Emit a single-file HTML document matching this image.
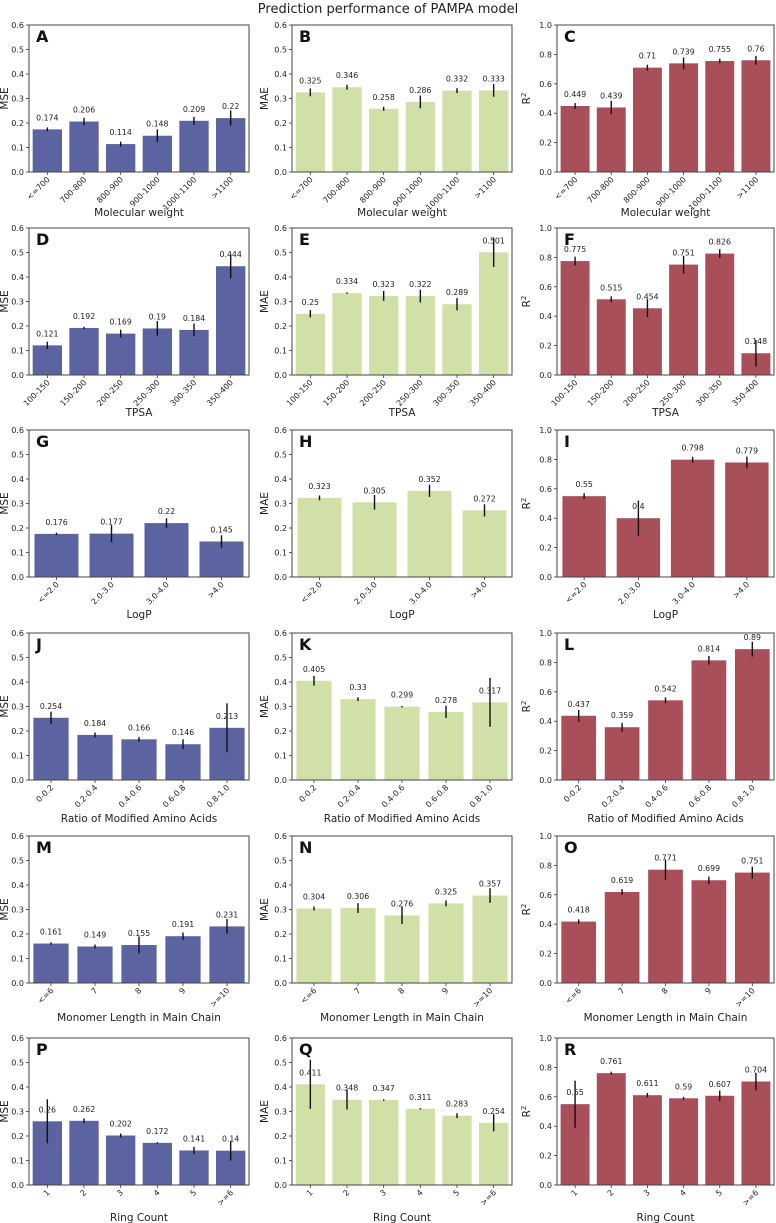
<!DOCTYPE html>
<html><head><meta charset="utf-8"><style>
body{margin:0;background:#fff;}
svg{display:block;font-family:"DejaVu Sans","Liberation Sans",sans-serif;}
</style></head><body>
<svg id="fig" width="776" height="1223" viewBox="0 0 776 1223">
<text x="388" y="13" text-anchor="middle" font-size="13" fill="#222">Prediction performance of PAMPA model</text>
</svg>
<script>
// categories per row
const catsMW = ["<=700","700-800","800-900","900-1000","1000-1100",">1100"];
const catsTPSA = ["100-150","150-200","200-250","250-300","300-350","350-400"];
const catsLogP = ["<=2.0","2.0-3.0","3.0-4.0",">4.0"];
const catsRatio = ["0-0.2","0.2-0.4","0.4-0.6","0.6-0.8","0.8-1.0"];
const catsMono = ["<=6","7","8","9",">=10"];
const catsRing = ["1","2","3","4","5",">=6"];
const xLabels = ["Molecular weight","TPSA","LogP","Ratio of Modified Amino Acids","Monomer Length in Main Chain","Ring Count"];
// values
const valsA=[0.174,0.206,0.114,0.148,0.209,0.22], errA=[0.008,0.015,0.01,0.026,0.016,0.031];
const valsB=[0.325,0.346,0.258,0.286,0.332,0.333], errB=[0.016,0.01,0.008,0.026,0.01,0.026];
const valsC=[0.449,0.439,0.71,0.739,0.755,0.76], errC=[0.02,0.045,0.02,0.04,0.015,0.03];
const valsD=[0.121,0.192,0.169,0.19,0.184,0.444], errD=[0.015,0.005,0.016,0.03,0.026,0.05];
const valsE=[0.25,0.334,0.323,0.322,0.289,0.501], errE=[0.015,0.003,0.02,0.026,0.025,0.06];
const valsF=[0.775,0.515,0.454,0.751,0.826,0.148], errF=[0.03,0.02,0.06,0.06,0.03,0.09];
const valsG=[0.176,0.177,0.22,0.145], errG=[0.005,0.035,0.02,0.025];
const valsH=[0.323,0.305,0.352,0.272], errH=[0.01,0.03,0.025,0.025];
const valsI=[0.55,0.4,0.798,0.779], errI=[0.02,0.12,0.02,0.04];
const valsJ=[0.254,0.184,0.166,0.146,0.213], errJ=[0.025,0.01,0.01,0.02,0.1];
const valsK=[0.405,0.33,0.299,0.278,0.317], errK=[0.02,0.008,0.003,0.025,0.1];
const valsL=[0.437,0.359,0.542,0.814,0.89], errL=[0.04,0.03,0.02,0.03,0.05];
const valsM=[0.161,0.149,0.155,0.191,0.231], errM=[0.005,0.008,0.035,0.015,0.03];
const valsN=[0.304,0.306,0.276,0.325,0.357], errN=[0.008,0.02,0.035,0.012,0.03];
const valsO=[0.418,0.619,0.771,0.699,0.751], errO=[0.015,0.02,0.07,0.025,0.04];
const valsP=[0.26,0.262,0.202,0.172,0.141,0.14], errP=[0.09,0.01,0.008,0.003,0.015,0.04];
const valsQ=[0.411,0.348,0.347,0.311,0.283,0.254], errQ=[0.1,0.04,0.003,0.003,0.01,0.035];
const valsR=[0.55,0.761,0.611,0.59,0.607,0.704], errR=[0.16,0.01,0.015,0.01,0.035,0.06];

const NS="http://www.w3.org/2000/svg";
const svg=document.getElementById('fig');
function mk(tag,attrs,parent){const e=document.createElementNS(NS,tag);for(const k in attrs)e.setAttribute(k,attrs[k]);(parent||svg).appendChild(e);return e;}

const colL=[29,292,557], colW=[220,220,217];
const rowT=[25,228,430,633,836,1038], H=147;
const xlabOff=[41,38,38,39,35,33];
const colors=["#5b63a0","#d1e0a7","#a84f5a"];
const ylabs=["MSE","MAE","R2"];
const ymaxs=[0.6,0.6,1.0];
const panels=[
 ["A",catsMW,valsA,errA],["B",catsMW,valsB,errB],["C",catsMW,valsC,errC],
 ["D",catsTPSA,valsD,errD],["E",catsTPSA,valsE,errE],["F",catsTPSA,valsF,errF],
 ["G",catsLogP,valsG,errG],["H",catsLogP,valsH,errH],["I",catsLogP,valsI,errI],
 ["J",catsRatio,valsJ,errJ],["K",catsRatio,valsK,errK],["L",catsRatio,valsL,errL],
 ["M",catsMono,valsM,errM],["N",catsMono,valsN,errN],["O",catsMono,valsO,errO],
 ["P",catsRing,valsP,errP],["Q",catsRing,valsQ,errQ],["R",catsRing,valsR,errR]];

panels.forEach((p,idx)=>{
 const r=Math.floor(idx/3), c=idx%3;
 const [letter,cats,vals,errs]=p;
 const L=colL[c], W=colW[c], T=rowT[r], B=T+H, ymax=ymaxs[c];
 const n=cats.length;
 const g=mk('g',{});
 
 
 const y=v=>B-v/ymax*H;
 const x=i=>L+(i+0.5)*W/n;
 const bw=0.8*W/n;
 const step=c===2?0.2:0.1;
 for(let k=0;k*step<=ymax+1e-9;k++){
  const v=k*step, yy=y(v);
  mk('line',{x1:L-3,x2:L,y1:yy,y2:yy,stroke:"#333","stroke-width":0.8},g);
  const t=mk('text',{x:L-5,y:yy+3,"text-anchor":"end","font-size":8,fill:"#222"},g);
  
  
  t.textContent=v.toFixed(1);
 }
 vals.forEach((v,i)=>{
  const b=mk('rect',{x:x(i)-bw/2,y:y(v),width:bw,height:B-y(v),fill:colors[c]},g);
  
  
  const e=errs[i];
  const el=mk('line',{x1:x(i),x2:x(i),y1:y(v-e),y2:y(v+e),stroke:"#111","stroke-width":1.4},g);
  
  
  const lt=mk('text',{x:x(i),y:y(v)-9,"text-anchor":"middle","font-size":7.8,fill:"#222"},g);
  
  
  lt.textContent=String(v);
  mk('line',{x1:x(i),x2:x(i),y1:B,y2:B+3,stroke:"#333","stroke-width":0.8},g);
  const xt=mk('text',{x:0,y:0,"text-anchor":"end","font-size":8,fill:"#222",transform:`translate(${x(i)+3},${B+8}) rotate(-45)`},g);
  
  
  xt.textContent=cats[i];
 });
 const f=mk('rect',{x:L,y:T,width:W,height:H,fill:"none",stroke:"#444","stroke-width":1},g);
 
 
 const lt=mk('text',{x:L+7,y:T+17,"font-size":16,"font-weight":"bold",fill:"#111"},g);
 
 
 lt.textContent=letter;
 const yl=mk('text',{x:0,y:0,"text-anchor":"middle","font-size":10.5,fill:"#222",transform:`translate(${L-[21,24,27][c]},${T+H/2}) rotate(-90)`},g);
 
 
 if(c===2){yl.innerHTML='R<tspan dy="-4" font-size="7">2</tspan>';}
 else yl.textContent=ylabs[c];
 const xl=mk('text',{x:L+W/2,y:B+xlabOff[r]+3,"text-anchor":"middle","font-size":10.5,fill:"#222"},g);
 
 
 xl.textContent=xLabels[r];
});
</script>
</body></html>
